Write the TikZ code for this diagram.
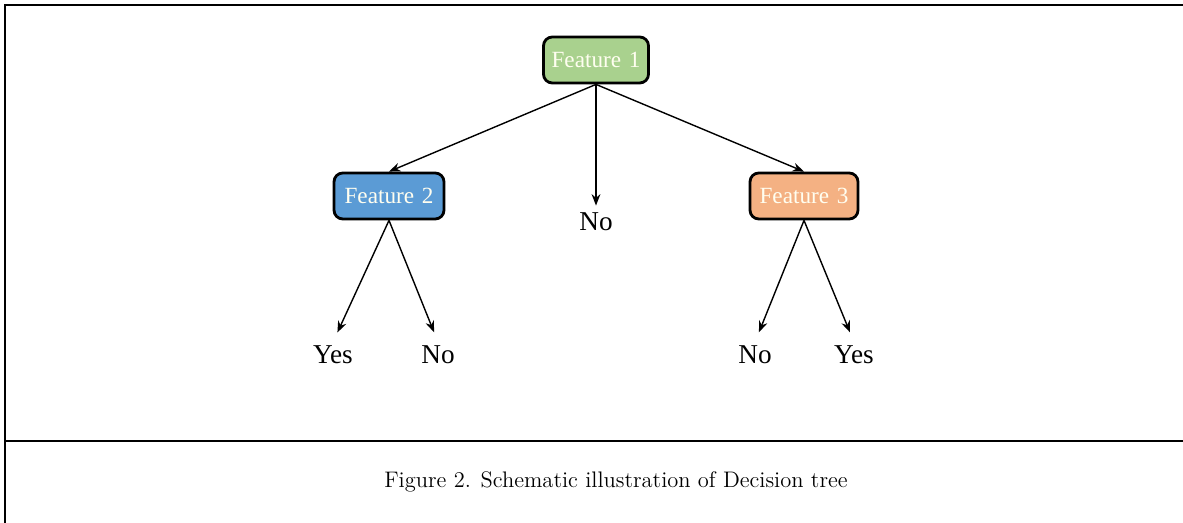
\documentclass[tikz,border=0pt]{standalone}
\usepackage{fontspec}
\newfontfamily\timesfont{Liberation Serif}
\usepackage{tikz}
\usetikzlibrary{arrows.meta}
\definecolor{featgreen}{HTML}{A9D18E}
\definecolor{featblue}{HTML}{5B9BD5}
\definecolor{featorange}{HTML}{F4B183}

\begin{document}
\begin{tikzpicture}[x=0.02cm,y=-0.02cm,
    feature/.style={draw=black,line width=1.6pt,rounded corners=5pt,
      minimum width=2.1cm,minimum height=0.92cm,text=white!94!yellow,
      font=\timesfont\fontsize{13.2}{15}\selectfont},
    leaf/.style={inner sep=2pt,font=\timesfont\fontsize{15.5}{17}\selectfont},
    branch/.style={-{Stealth[length=6.5pt,width=5pt]},line width=0.8pt,shorten >=6pt}]
  \useasboundingbox (0,0) rectangle (1183,523);
  %Frame
  \draw[line width=1.3pt] (1183,5) -- (5,5) -- (5,523);
  \draw[line width=1.3pt] (5,441) -- (1183,441);
  %Features
  \node[feature,fill=featgreen] (f1) at (596,60) {Feature\,\,1};
  \node[feature,fill=featblue,minimum width=2.2cm] (f2) at (389,196) {Feature\,\,2};
  \node[feature,fill=featorange,minimum width=2.16cm] (f3) at (804,196) {Feature\,\,3};
  %Leaves
  \foreach \name/\x/\y/\txt in {l1/333/355/Yes, l2/438/355/No, l3/596/222/No,
      l4/755/355/No, l5/854/355/Yes}
    \node[leaf] (\name) at (\x,\y) {\txt};
  %Branches
  \draw[branch,shorten >=0pt] (f1.south) -- (f2.north);
  \draw[branch,shorten >=0pt] (f1.south) -- (f3.north);
  \draw[branch,shorten >=2pt] (f1.south) -- (l3.north);
  \foreach \a/\b in {f2/l1, f2/l2, f3/l4, f3/l5}
    \draw[branch] (\a.south) -- (\b.north);
  %Caption
  \node (cap) at (616,482) {\fontsize{12.8}{15}\selectfont Figure 2. Schematic illustration of Decision tree};
\end{tikzpicture}
\end{document}
